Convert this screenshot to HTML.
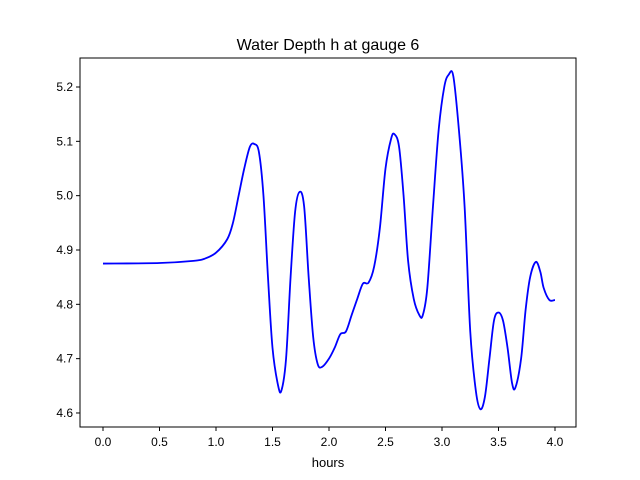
<!DOCTYPE html>
<html><head><meta charset="utf-8"><style>
body{margin:0;background:#fff}
svg{display:block;font-family:"Liberation Sans","DejaVu Sans",sans-serif}
</style></head><body>
<svg id="chart" width="640" height="480">
<rect width="640" height="480" fill="#fff"/>
<text x="328" y="50" text-anchor="middle" font-size="16">Water Depth h at gauge 6</text>
<g id="ticks"></g>
<path id="line" fill="none" stroke="#0000ff" stroke-width="1.8"/>
<rect x="80" y="58" width="496" height="369" fill="none" stroke="#000" stroke-width="1"/>
<text x="328" y="467" text-anchor="middle" font-size="13">hours</text>
</svg>
<script>
const hours=[0,0.5,0.8,0.9,1.0,1.1,1.15,1.2,1.25,1.3,1.34,1.38,1.42,1.46,1.5,1.55,1.58,1.62,1.66,1.7,1.74,1.78,1.82,1.86,1.9,1.94,2.0,2.05,2.1,2.15,2.2,2.25,2.3,2.35,2.4,2.45,2.5,2.55,2.58,2.62,2.66,2.7,2.75,2.8,2.83,2.87,2.92,2.97,3.02,3.06,3.1,3.15,3.2,3.25,3.3,3.34,3.38,3.42,3.46,3.5,3.54,3.58,3.62,3.65,3.7,3.74,3.78,3.83,3.87,3.9,3.95,4.0];
const depth=[4.875,4.876,4.88,4.884,4.895,4.92,4.95,5.0,5.05,5.09,5.095,5.08,5.0,4.85,4.72,4.65,4.642,4.7,4.85,4.97,5.007,4.98,4.85,4.74,4.69,4.685,4.70,4.72,4.745,4.75,4.78,4.81,4.838,4.84,4.87,4.94,5.05,5.105,5.113,5.09,5.0,4.88,4.81,4.78,4.78,4.83,4.98,5.12,5.20,5.223,5.22,5.12,4.98,4.75,4.64,4.607,4.63,4.7,4.77,4.785,4.77,4.72,4.655,4.647,4.7,4.79,4.85,4.878,4.86,4.83,4.808,4.808];
const xTicks=[0,0.5,1.0,1.5,2.0,2.5,3.0,3.5,4.0];
const yTicks=[4.6,4.7,4.8,4.9,5.0,5.1,5.2];
const X=v=>103+v*113;
const Y=v=>87+(5.2-v)*543.3;
const NS="http://www.w3.org/2000/svg";
const g=document.getElementById('ticks');
function mk(t,a){const e=document.createElementNS(NS,t);for(const k in a)e.setAttribute(k,a[k]);g.appendChild(e);return e;}
xTicks.forEach(t=>{
 const l=mk('line',{x1:X(t),x2:X(t),y1:427,y2:431,stroke:'#000'});
 
 
 const s=mk('text',{x:X(t),y:446,'text-anchor':'middle','font-size':12});
 
 
 s.textContent=t.toFixed(1);
});
yTicks.forEach(t=>{
 const l=mk('line',{x1:76,x2:80,y1:Y(t),y2:Y(t),stroke:'#000'});
 
 
 const s=mk('text',{x:73,y:Y(t)+4,'text-anchor':'end','font-size':12});
 
 
 s.textContent=t.toFixed(1);
});
const P=hours.map((h,i)=>[X(h),Y(depth[i])]);
let d='M'+P[0][0]+','+P[0][1];
for(let i=0;i<P.length-1;i++){
 const p0=P[Math.max(i-1,0)],p1=P[i],p2=P[i+1],p3=P[Math.min(i+2,P.length-1)];
 const c1=[p1[0]+(p2[0]-p0[0])/6,p1[1]+(p2[1]-p0[1])/6];
 const c2=[p2[0]-(p3[0]-p1[0])/6,p2[1]-(p3[1]-p1[1])/6];
 d+=' C'+c1+' '+c2+' '+p2;
}
document.getElementById('line').setAttribute('d',d);
</script>
</body></html>
